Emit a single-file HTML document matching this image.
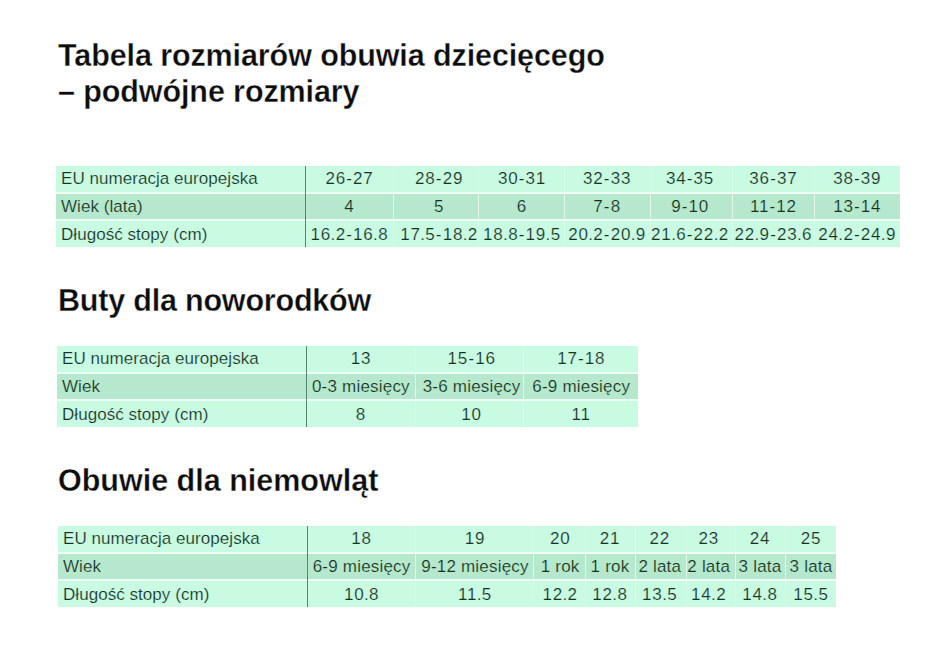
<!DOCTYPE html>
<html><head><meta charset="utf-8">
<style>
html,body{margin:0;padding:0;background:#fff;width:945px;height:665px;overflow:hidden;position:relative}
body{font-family:"Liberation Sans",sans-serif;}
.h{position:absolute;left:58px;margin:0;font-size:30.5px;font-weight:700;line-height:36px;color:#0d0d0d;letter-spacing:-0.1px;white-space:nowrap;-webkit-text-stroke:0.3px #fff}
.tb{position:absolute;height:81px;background:#effdf5}
.row{position:absolute;left:0;height:26px}
.lab{position:absolute;top:0;line-height:26px;height:26px;font-size:17px;color:#15301f;letter-spacing:0.05px;white-space:nowrap}
.c{position:absolute;top:0;width:120px;height:26px;line-height:26px;text-align:center;font-size:17px;color:#15301f;white-space:nowrap}
.num{letter-spacing:0.8px}
.hy{margin:0 0.3px}
.dt{margin:0 -0.45px}
.mix{letter-spacing:0.2px}
.sep{position:absolute;top:0;width:1px;height:26px;background:#fff}
.dl{position:absolute;top:0;width:1px;height:81px;background:#55856f}
</style></head><body>
<div class="h" style="top:37px">Tabela rozmiarów obuwia dziecięcego<br>– podwójne rozmiary</div>
<div class="h" style="top:282px;letter-spacing:-0.2px">Buty dla noworodków</div>
<div class="h" style="top:462px;letter-spacing:0px">Obuwie dla niemowląt</div>
<div class="tb" style="left:56px;top:166px;width:844px"><div class="row" style="top:0px;height:26px;width:844px;background:#c9fae2;-webkit-text-stroke:0.2px #c9fae2"><div class="lab" style="left:5.00px;top:0px">EU numeracja europejska</div><div class="c num" style="left:233.43px;top:0px">26<span class="hy">-</span>27</div><div class="c num" style="left:323.10px;top:0px">28<span class="hy">-</span>29</div><div class="c num" style="left:405.97px;top:0px">30<span class="hy">-</span>31</div><div class="c num" style="left:491.10px;top:0px">32<span class="hy">-</span>33</div><div class="c num" style="left:574.07px;top:0px">34<span class="hy">-</span>35</div><div class="c num" style="left:657.37px;top:0px">36<span class="hy">-</span>37</div><div class="c num" style="left:741.20px;top:0px">38<span class="hy">-</span>39</div><div class="sep" style="left:336.50px;height:26px;opacity:0.2"></div><div class="sep" style="left:422.20px;height:26px;opacity:0.2"></div><div class="sep" style="left:508.00px;height:26px;opacity:0.2"></div><div class="sep" style="left:593.90px;height:26px;opacity:0.2"></div><div class="sep" style="left:676.00px;height:26px;opacity:0.2"></div><div class="sep" style="left:757.60px;height:26px;opacity:0.2"></div></div><div class="row" style="top:28px;height:25px;width:844px;background:#b6e8cd;-webkit-text-stroke:0.2px #b6e8cd"><div class="lab" style="left:5.00px;top:0px">Wiek (lata)</div><div class="c num" style="left:233.43px;top:0px">4</div><div class="c num" style="left:323.10px;top:0px">5</div><div class="c num" style="left:405.97px;top:0px">6</div><div class="c num" style="left:491.10px;top:0px">7<span class="hy">-</span>8</div><div class="c num" style="left:574.07px;top:0px">9<span class="hy">-</span>10</div><div class="c num" style="left:657.37px;top:0px">11<span class="hy">-</span>12</div><div class="c num" style="left:741.20px;top:0px">13<span class="hy">-</span>14</div><div class="sep" style="left:336.50px;height:25px;opacity:0.6"></div><div class="sep" style="left:422.20px;height:25px;opacity:0.6"></div><div class="sep" style="left:508.00px;height:25px;opacity:0.6"></div><div class="sep" style="left:593.90px;height:25px;opacity:0.6"></div><div class="sep" style="left:676.00px;height:25px;opacity:0.6"></div><div class="sep" style="left:757.60px;height:25px;opacity:0.6"></div></div><div class="row" style="top:55px;height:26px;width:844px;background:#c9fae2;-webkit-text-stroke:0.2px #c9fae2"><div class="lab" style="left:5.00px;top:1px">Długość stopy (cm)</div><div class="c num" style="left:233.43px;top:1px">16<span class="dt">.</span>2<span class="hy">-</span>16<span class="dt">.</span>8</div><div class="c num" style="left:323.10px;top:1px">17<span class="dt">.</span>5<span class="hy">-</span>18<span class="dt">.</span>2</div><div class="c num" style="left:405.97px;top:1px">18<span class="dt">.</span>8<span class="hy">-</span>19<span class="dt">.</span>5</div><div class="c num" style="left:491.10px;top:1px">20<span class="dt">.</span>2<span class="hy">-</span>20<span class="dt">.</span>9</div><div class="c num" style="left:574.07px;top:1px">21<span class="dt">.</span>6<span class="hy">-</span>22<span class="dt">.</span>2</div><div class="c num" style="left:657.37px;top:1px">22<span class="dt">.</span>9<span class="hy">-</span>23<span class="dt">.</span>6</div><div class="c num" style="left:741.20px;top:1px">24<span class="dt">.</span>2<span class="hy">-</span>24<span class="dt">.</span>9</div><div class="sep" style="left:336.50px;height:26px;opacity:0.2"></div><div class="sep" style="left:422.20px;height:26px;opacity:0.2"></div><div class="sep" style="left:508.00px;height:26px;opacity:0.2"></div><div class="sep" style="left:593.90px;height:26px;opacity:0.2"></div><div class="sep" style="left:676.00px;height:26px;opacity:0.2"></div><div class="sep" style="left:757.60px;height:26px;opacity:0.2"></div></div><div class="dl" style="left:249px"></div></div><div class="tb" style="left:57px;top:346px;width:581px"><div class="row" style="top:0px;height:26px;width:581px;background:#c9fae2;-webkit-text-stroke:0.2px #c9fae2"><div class="lab" style="left:5.00px;top:0px">EU numeracja europejska</div><div class="c num" style="left:243.90px;top:0px">13</div><div class="c num" style="left:354.63px;top:0px">15<span class="hy">-</span>16</div><div class="c num" style="left:464.23px;top:0px">17<span class="hy">-</span>18</div><div class="sep" style="left:358.00px;height:26px;opacity:0.2"></div><div class="sep" style="left:466.20px;height:26px;opacity:0.2"></div></div><div class="row" style="top:28px;height:25px;width:581px;background:#b6e8cd;-webkit-text-stroke:0.2px #b6e8cd"><div class="lab" style="left:5.00px;top:0px">Wiek</div><div class="c mix" style="left:243.90px;top:0px">0-3 miesięcy</div><div class="c mix" style="left:354.63px;top:0px">3-6 miesięcy</div><div class="c mix" style="left:464.23px;top:0px">6-9 miesięcy</div><div class="sep" style="left:358.00px;height:25px;opacity:0.6"></div><div class="sep" style="left:466.20px;height:25px;opacity:0.6"></div></div><div class="row" style="top:55px;height:26px;width:581px;background:#c9fae2;-webkit-text-stroke:0.2px #c9fae2"><div class="lab" style="left:5.00px;top:1px">Długość stopy (cm)</div><div class="c num" style="left:243.90px;top:1px">8</div><div class="c num" style="left:354.63px;top:1px">10</div><div class="c num" style="left:464.23px;top:1px">11</div><div class="sep" style="left:358.00px;height:26px;opacity:0.2"></div><div class="sep" style="left:466.20px;height:26px;opacity:0.2"></div></div><div class="dl" style="left:249px"></div></div><div class="tb" style="left:58px;top:526px;width:778px"><div class="row" style="top:0px;height:26px;width:778px;background:#c9fae2;-webkit-text-stroke:0.2px #c9fae2"><div class="lab" style="left:5.00px;top:0px">EU numeracja europejska</div><div class="c num" style="left:243.63px;top:0px">18</div><div class="c num" style="left:357.03px;top:0px">19</div><div class="c num" style="left:442.17px;top:0px">20</div><div class="c num" style="left:491.97px;top:0px">21</div><div class="c num" style="left:541.80px;top:0px">22</div><div class="c num" style="left:590.73px;top:0px">23</div><div class="c num" style="left:642.00px;top:0px">24</div><div class="c num" style="left:693.00px;top:0px">25</div><div class="sep" style="left:356.50px;height:26px;opacity:0.2"></div><div class="sep" style="left:474.80px;height:26px;opacity:0.2"></div><div class="sep" style="left:527.30px;height:26px;opacity:0.2"></div><div class="sep" style="left:577.10px;height:26px;opacity:0.2"></div><div class="sep" style="left:628.30px;height:26px;opacity:0.2"></div><div class="sep" style="left:676.50px;height:26px;opacity:0.2"></div><div class="sep" style="left:727.40px;height:26px;opacity:0.2"></div></div><div class="row" style="top:28px;height:25px;width:778px;background:#b6e8cd;-webkit-text-stroke:0.2px #b6e8cd"><div class="lab" style="left:5.00px;top:0px">Wiek</div><div class="c mix" style="left:243.63px;top:0px">6-9 miesięcy</div><div class="c mix" style="left:357.03px;top:0px">9-12 miesięcy</div><div class="c mix" style="left:442.17px;top:0px">1 rok</div><div class="c mix" style="left:491.97px;top:0px">1 rok</div><div class="c mix" style="left:541.80px;top:0px">2 lata</div><div class="c mix" style="left:590.73px;top:0px">2 lata</div><div class="c mix" style="left:642.00px;top:0px">3 lata</div><div class="c mix" style="left:693.00px;top:0px">3 lata</div><div class="sep" style="left:356.50px;height:25px;opacity:0.6"></div><div class="sep" style="left:474.80px;height:25px;opacity:0.6"></div><div class="sep" style="left:527.30px;height:25px;opacity:0.6"></div><div class="sep" style="left:577.10px;height:25px;opacity:0.6"></div><div class="sep" style="left:628.30px;height:25px;opacity:0.6"></div><div class="sep" style="left:676.50px;height:25px;opacity:0.6"></div><div class="sep" style="left:727.40px;height:25px;opacity:0.6"></div></div><div class="row" style="top:55px;height:26px;width:778px;background:#c9fae2;-webkit-text-stroke:0.2px #c9fae2"><div class="lab" style="left:5.00px;top:1px">Długość stopy (cm)</div><div class="c num" style="left:243.63px;top:1px">10<span class="dt">.</span>8</div><div class="c num" style="left:357.03px;top:1px">11<span class="dt">.</span>5</div><div class="c num" style="left:442.17px;top:1px">12<span class="dt">.</span>2</div><div class="c num" style="left:491.97px;top:1px">12<span class="dt">.</span>8</div><div class="c num" style="left:541.80px;top:1px">13<span class="dt">.</span>5</div><div class="c num" style="left:590.73px;top:1px">14<span class="dt">.</span>2</div><div class="c num" style="left:642.00px;top:1px">14<span class="dt">.</span>8</div><div class="c num" style="left:693.00px;top:1px">15<span class="dt">.</span>5</div><div class="sep" style="left:356.50px;height:26px;opacity:0.2"></div><div class="sep" style="left:474.80px;height:26px;opacity:0.2"></div><div class="sep" style="left:527.30px;height:26px;opacity:0.2"></div><div class="sep" style="left:577.10px;height:26px;opacity:0.2"></div><div class="sep" style="left:628.30px;height:26px;opacity:0.2"></div><div class="sep" style="left:676.50px;height:26px;opacity:0.2"></div><div class="sep" style="left:727.40px;height:26px;opacity:0.2"></div></div><div class="dl" style="left:249px"></div></div>
</body></html>
